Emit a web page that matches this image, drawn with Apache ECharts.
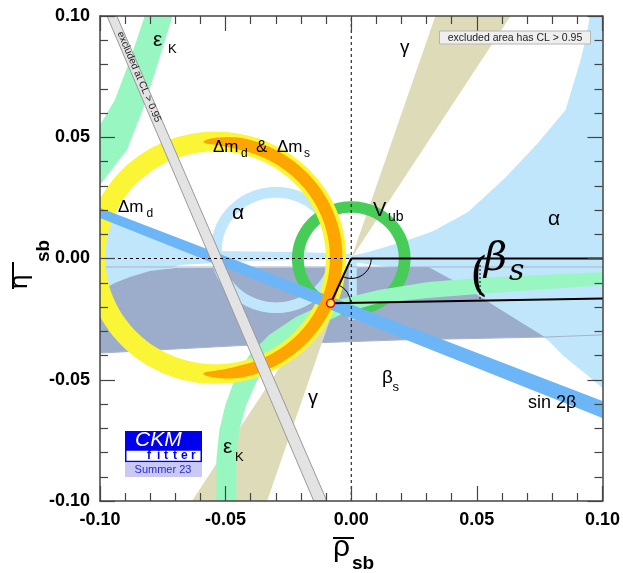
<!DOCTYPE html>
<html><head><meta charset="utf-8">
<script src="https://cdn.jsdelivr.net/npm/echarts@6/dist/echarts.min.js"></script>
<style>html,body{margin:0;padding:0;background:#fff}#c{width:623px;height:573px}</style>
</head><body><div id="c"></div>
<script>
// ---------------- axes ----------------
const rhoTicks = [-0.10, -0.05, 0.00, 0.05, 0.10];
const etaTicks = [-0.10, -0.05, 0.00, 0.05, 0.10];

// ---------------- constraint regions (rho_sb, eta_sb) ----------------
const alphaRingCenter = [-0.0299, 0.0035];
const alphaRingRadii  = [0.026, 0.0216];
const alphaLeftRegion = [[-0.1,0.0208],[-0.0552,0.0031],[-0.0208,0.0027],[0,0.0019],[0,-0.0002],
                         [-0.0406,-0.0010],[-0.0683,-0.0027],[-0.1,-0.0138]];
const alphaRightRegion = [[0,0.001],[0.0069,0.0027],[0.0149,0.0052],[0.0228,0.0076],[0.0327,0.0113],
                          [0.0465,0.0192],[0.0612,0.0332],[0.0743,0.0476],[0.0853,0.0612],[0.0913,0.0819],
                          [0.0937,0.0922],[0.0949,0.1],[0.105,0.105],[0.105,-0.058],[0.1,-0.0534],
                          [0.0929,-0.0472],[0.0850,-0.0406],[0.0782,-0.0336],[0.0584,-0.0212],
                          [0.0386,-0.0109],[0.0188,-0.0039],[0,-0.0014]];
const alphaAxisSliver = [[-0.001,-0.0002],[0.0022,-0.0002],[0.0022,-0.0253],[-0.001,-0.0253]];
const betaSRegion = [[-0.1,-0.0134],[-0.0941,-0.0101],[-0.0881,-0.0076],[-0.0802,-0.0052],[-0.0703,-0.0039],
                     [0.0307,-0.0035],[0.0453,-0.0118],[0.0584,-0.0204],[0.0770,-0.0324],
                     [0.0188,-0.0336],[-0.0406,-0.0357],[-0.1,-0.0390]];
const betaSEdgeTop    = [[-0.1,-0.0035],[0.1,-0.0035]];
const betaSEdgeBottom = [[-0.1,-0.0390],[-0.0406,-0.0357],[0.0188,-0.0336],[0.0770,-0.0324],[0.1,-0.0315]];
const gammaUpper = [[0,0],[0.0335,0.1],[0.0634,0.1]];
const gammaLower = [[0,0],[-0.0634,-0.1],[-0.0335,-0.1]];
const epsKUpperEdgeA = [[-0.0805,0.105],[-0.0822,0.1],[-0.0881,0.0819],[-0.0941,0.0654],[-0.1,0.0551],[-0.105,0.048]];
const epsKUpperEdgeB = [[-0.0695,0.105],[-0.0711,0.1],[-0.0774,0.079],[-0.0830,0.0612],[-0.0893,0.0447],[-0.1,0.0303],[-0.105,0.025]];
const epsKLowerOuter = [[-0.0537,-0.105],[-0.0537,-0.0831],[-0.0525,-0.0707],[-0.0501,-0.0604],[-0.0465,-0.0501],
                        [-0.0406,-0.0398],[-0.0327,-0.0315],[-0.0220,-0.0241],[-0.0089,-0.0179],[0.0109,-0.0130],
                        [0.0307,-0.0097],[0.0505,-0.0080],[0.105,-0.0054]];
const epsKLowerInner = [[-0.0457,-0.105],[-0.0457,-0.0831],[-0.0446,-0.0707],[-0.0418,-0.0604],[-0.0374,-0.0501],
                        [-0.0319,-0.0419],[-0.0248,-0.0357],[-0.0149,-0.0287],[-0.0030,-0.0225],[0.0109,-0.0184],
                        [0.0307,-0.0163],[0.0505,-0.0146],[0.105,-0.0107]];
const vubRingCenter = [0, 0];
const vubRingRadii  = [0.0236, 0.0189];
const dmdRingCenter = [-0.054, 0.0003];
const dmdRingRadii  = [0.052, 0.0439];
const dmsArcCenter  = [-0.054, 0.0003];
const dmsArcRadii   = [0.0505, 0.0455];
const dmsArcAngles  = [-96, 96];
const sin2bBand     = [[-0.1,0.0208],[0.1,-0.0588],[0.1,-0.0658],[-0.1,0.0167]];
const excludedBand  = [[-0.0972,0.1],[-0.0933,0.1],[-0.0097,-0.1],[-0.0149,-0.1]];
const apex          = [-0.0082, -0.0185];
const baseEnd       = [1, 0];

const COL = {alpha:'#bfe6fa', betaS:'#9cadcc', gamma:'#dedcb8', epsK:'#98f7c1', vub:'#48cc58',
             dmd:'#faf535', dms:'#ffa500', s2b:'#6cb6f8', excl:'#e3e3e3'};

const layers = [
  {k:'poly', p:alphaLeftRegion, fill:COL.alpha},
  {k:'poly', p:alphaRightRegion, fill:COL.alpha},
  {k:'poly', p:betaSRegion, fill:COL.betaS},
  {k:'ring', c:alphaRingCenter, r:alphaRingRadii, fill:COL.alpha},
  {k:'poly', p:alphaAxisSliver, fill:COL.alpha},
  {k:'line', p:betaSEdgeTop, stroke:'#a7b3c9', w:1},
  {k:'line', p:betaSEdgeBottom, stroke:'#a7b3c9', w:1},
  {k:'poly', p:gammaUpper, fill:COL.gamma},
  {k:'poly', p:gammaLower, fill:COL.gamma},
  {k:'ring', c:vubRingCenter, r:vubRingRadii, fill:COL.vub},
  {k:'band', a:epsKUpperEdgeA, b:epsKUpperEdgeB, fill:COL.epsK},
  {k:'band', a:epsKLowerOuter, b:epsKLowerInner, fill:COL.epsK},
  {k:'ring', c:dmdRingCenter, r:dmdRingRadii, fill:COL.dmd},
  {k:'poly', p:sin2bBand, fill:COL.s2b},
  {k:'arcband', c:dmsArcCenter, r:dmsArcRadii, a:dmsArcAngles, fill:COL.dms},
  {k:'poly', p:excludedBand, fill:COL.excl, stroke:'#999', w:1},
  {k:'line', p:[[0,-0.1],[0,0.1]], stroke:'#000', w:1, dash:[3,3]},
  {k:'line', p:[[-0.1,0],[0,0]], stroke:'#000', w:1, dash:[3,3]},
  {k:'line', p:[[0,0],[0.11,0]], stroke:'#000', w:2},
  {k:'line', p:[[0,0],apex], stroke:'#000', w:2},
  {k:'line', p:[apex,baseEnd], stroke:'#000', w:2},
  {k:'angles'},
  {k:'apex'}
];

function P(api, q){ return api.coord(q); }
function ringPath(api, c, rO, rI){
  const n = 180; let d = '';
  for (let i = 0; i <= n; i++) { const t = 2*Math.PI*i/n; const q = P(api,[c[0]+rO*Math.cos(t), c[1]+rO*Math.sin(t)]); d += (i?'L':'M') + q[0].toFixed(2) + ' ' + q[1].toFixed(2); }
  d += 'Z';
  for (let i = 0; i <= n; i++) { const t = -2*Math.PI*i/n; const q = P(api,[c[0]+rI*Math.cos(t), c[1]+rI*Math.sin(t)]); d += (i?'L':'M') + q[0].toFixed(2) + ' ' + q[1].toFixed(2); }
  return d + 'Z';
}
function renderItem(params, api){
  const L = layers[params.dataIndex];
  if (L.k === 'poly') {
    return {type:'polygon', shape:{points:L.p.map(q=>P(api,q))}, style:{fill:L.fill, stroke:L.stroke||null, lineWidth:L.w||0}};
  }
  if (L.k === 'band') {
    const pts = L.a.concat(L.b.slice().reverse()).map(q=>P(api,q));
    return {type:'polygon', shape:{points:pts}, style:{fill:L.fill}};
  }
  if (L.k === 'ring') {
    return {type:'path', shape:{pathData:ringPath(api,L.c,L.r[0],L.r[1])}, style:{fill:L.fill}};
  }
  if (L.k === 'arcband') {
    const outer = [], inner = [];
    const mid = (L.r[0]+L.r[1])/2, hw = (L.r[0]-L.r[1])/2;
    for (let t = L.a[0]; t <= L.a[1] + 1e-9; t += 1) {
      const tap = Math.sqrt(Math.min(1, (L.a[1]-Math.abs(t))/18));
      const rad = t*Math.PI/180;
      outer.push(P(api,[L.c[0]+(mid+hw*tap)*Math.cos(rad), L.c[1]+(mid+hw*tap)*Math.sin(rad)]));
      inner.push(P(api,[L.c[0]+(mid-hw*tap)*Math.cos(rad), L.c[1]+(mid-hw*tap)*Math.sin(rad)]));
    }
    return {type:'polygon', shape:{points:outer.concat(inner.reverse())}, style:{fill:L.fill}};
  }
  if (L.k === 'line') {
    return {type:'polyline', shape:{points:L.p.map(q=>P(api,q))}, style:{stroke:L.stroke, lineWidth:L.w, lineDash:L.dash||null, fill:null}};
  }
  if (L.k === 'angles') {
    const o = P(api,[0,0]), a = P(api,apex), e = P(api,baseEnd);
    const angO = Math.atan2(a[1]-o[1], a[0]-o[0]);
    const angA1 = Math.atan2(e[1]-a[1], e[0]-a[0]);
    const angA2 = Math.atan2(o[1]-a[1], o[0]-a[0]);
    return {type:'group', children:[
      {type:'arc', shape:{cx:o[0], cy:o[1], r:20, startAngle:0, endAngle:angO, clockwise:true}, style:{stroke:'#000', lineWidth:1, fill:null}},
      {type:'arc', shape:{cx:a[0], cy:a[1], r:20, startAngle:angA1, endAngle:angA2, clockwise:false}, style:{stroke:'#000', lineWidth:1, fill:null}}
    ]};
  }
  if (L.k === 'apex') {
    const a = P(api,apex);
    return {type:'circle', shape:{cx:a[0], cy:a[1], r:4}, style:{fill:'#ffe84a', stroke:'#e00000', lineWidth:1.5}};
  }
  return null;
}

const FF = 'Liberation Sans, Arial, Helvetica, sans-serif';
function T(x, base, text, size, o){
  o = o || {};
  return {type:'text', x:x, y:base - 0.35*size, z:100, rotation:o.rot||0,
    style:{text:text, fontSize:size, fontFamily:o.ff||FF, fontWeight:o.fw||'normal', fontStyle:o.fs||'normal',
           fill:o.color||'#000', align:o.align||'left', verticalAlign:'middle'}};
}
function Ln(x1,y1,x2,y2,c,w,dash){ return {type:'line', z:100, shape:{x1,y1,x2,y2}, style:{stroke:c, lineWidth:w, lineDash:dash||null}}; }
function R(x,y,w,h,fill,stroke,lw){ return {type:'rect', z:99, shape:{x,y,width:w,height:h}, style:{fill:fill, stroke:stroke||null, lineWidth:lw||0}}; }

const graphics = [
  T(153,48,'ε',21), T(168,54,'K',13),
  T(213,153.5,'Δm',17), T(241,158,'d',12), T(256,153.5,'&',17), T(277,153.5,'Δm',17), T(304,158,'s',12),
  T(118,213.5,'Δm',17), T(146.5,218,'d',12),
  T(232,221,'α',21),
  T(373,217,'V',20), T(388,222,'ub',14),
  T(548,227,'α',21),
  T(400,54,'γ',19),
  T(308,405,'γ',20),
  T(382,384,'β',19), T(392.5,392,'s',13),
  T(528,409,'sin 2β',18),
  T(223,455,'ε',21), T(235,462,'K',13),
  // big beta_s annotation
  T(470,294,'(',46,{ff:'DejaVu Serif'}),
  Ln(480,265,480,300,'#000',1,[2,2]),
  T(484,274,'β',40,{ff:'DejaVu Serif', fs:'italic'}),
  T(509,283,'s',30,{ff:'DejaVu Serif', fs:'italic'}),
  // excluded band text
  {type:'text', x:139, y:77, z:100, rotation:-1.166,
   style:{text:'excluded at CL > 0.95', fontSize:10, fontFamily:FF, fill:'#222', align:'center', verticalAlign:'middle'}},
  // note box
  R(439.5,31,151,13,'#efefef','#b5b5b5',1),
  {type:'text', x:515, y:37.8, z:100, style:{text:'excluded area has CL > 0.95', fontSize:10.5, fontFamily:FF, fill:'#222', align:'center', verticalAlign:'middle'}},
  // CKMfitter logo
  R(125,431,77,19,'#0000ee'),
  R(125.75,450,75.5,11.5,'#ffffff','#0000ee',1.5),
  T(135,448,'CKM',21,{fs:'italic', color:'#ffffff'}),
  T(147,460,'f',12,{fw:'bold', color:'#0000ee'}), T(157,460,'i',12,{fw:'bold', color:'#0000ee'}),
  T(164,460,'t',12,{fw:'bold', color:'#0000ee'}), T(173,460,'t',12,{fw:'bold', color:'#0000ee'}),
  T(181,460,'e',12,{fw:'bold', color:'#0000ee'}), T(191,460,'r',12,{fw:'bold', color:'#0000ee'}),
  R(125,463,77,14,'#c9c9f2'),
  {type:'text', x:163, y:470, z:100, style:{text:'Summer 23', fontSize:11, fontFamily:FF, fill:'#2a2ae0', align:'center', verticalAlign:'middle'}},
  // axis titles
  T(333,558,'ρ',30), Ln(333,538,354,538,'#000',2), T(352,570,'sb',19,{fw:'bold'}),
  {type:'text', x:20, y:289, z:100, rotation:Math.PI/2, style:{text:'η', fontSize:26, fontFamily:FF, fill:'#000', align:'left', verticalAlign:'middle'}},
  {type:'text', x:44, y:262, z:100, rotation:Math.PI/2, style:{text:'sb', fontSize:19, fontWeight:'bold', fontFamily:FF, fill:'#000', align:'left', verticalAlign:'middle'}},
  Ln(13,262,13,289,'#000',2)
];

const tickStyle = {color:'#444', width:1.2};
function axisCommon(show){
  return {type:'value', min:-0.1, max:0.1, interval:0.05, z:10,
    axisLine:{show:true, onZero:false, lineStyle:{color:'#444', width:1.5}},
    axisTick:{show:true, inside:true, length:15, lineStyle:tickStyle},
    minorTick:{show:true, splitNumber:5, length:8, lineStyle:tickStyle},
    splitLine:{show:false}, minorSplitLine:{show:false},
    axisLabel:{show:show, showMinLabel:true, showMaxLabel:true, formatter:v=>(Math.abs(v)<1e-9?0:v).toFixed(2),
      fontFamily:FF, fontWeight:'bold', fontSize:18, color:'#000', margin:10}};
}
const xa0 = axisCommon(true); xa0.position='bottom';
const xa1 = axisCommon(false); xa1.position='top';
const ya0 = axisCommon(true); ya0.position='left';
const ya1 = axisCommon(false); ya1.position='right';

const chart = echarts.init(document.getElementById('c'));
chart.setOption({
  animation:false,
  backgroundColor:'#ffffff',
  grid:{left:100, right:18, top:16, bottom:72},
  xAxis:[xa0, xa1],
  yAxis:[ya0, ya1],
  series:[{type:'custom', clip:true, silent:true, z:2, renderItem:renderItem,
           data:layers.map(()=>[0,0])}],
  graphic:graphics
});
</script></body></html>
